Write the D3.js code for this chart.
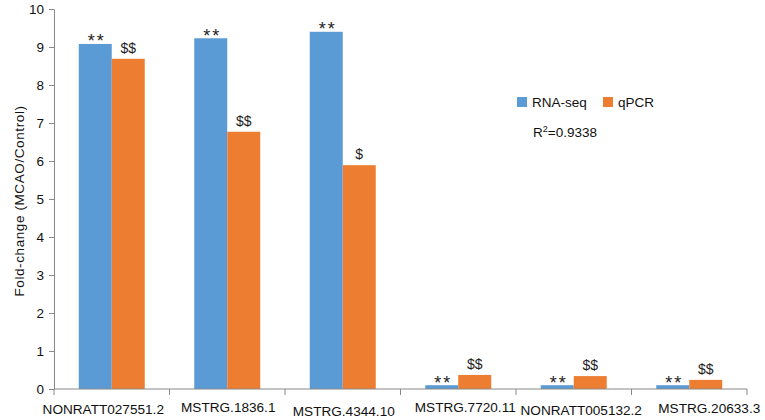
<!DOCTYPE html>
<html>
<head>
<meta charset="utf-8">
<script src="https://cdn.jsdelivr.net/npm/d3@7"></script>
<style>
  body { margin: 0; background: #fff; }
  svg { font-family: "Liberation Sans", Arial, sans-serif; }
</style>
</head>
<body>
<div id="chart"></div>
<script>
let categories = ["NONRATT027551.2", "MSTRG.1836.1", "MSTRG.4344.10", "MSTRG.7720.11", "NONRATT005132.2", "MSTRG.20633.3"];
let rnaSeq = [9.08, 9.23, 9.40, 0.10, 0.10, 0.10];
let qpcr = [8.69, 6.77, 5.89, 0.37, 0.34, 0.24];
let rnaMarks = ["**", "**", "**", "**", "**", "**"];
let qpcrMarks = ["$$", "$$", "$", "$$", "$$", "$$"];
let seriesNames = ["RNA-seq", "qPCR"];
let yTicks = [0, 1, 2, 3, 4, 5, 6, 7, 8, 9, 10];

let margin = {top: 9, right: 18, bottom: 31, left: 54};
let width = 765 - margin.left - margin.right;
let height = 420 - margin.top - margin.bottom;

let colors = ["#5b9bd5", "#ed7d31"];

// the category labels in the original sit a little off their band centres
let labelShift = [[-8.5, 1.5], [1, -0.5], [1, 3.5], [7, -0.5], [7.5, 2.5], [20, 0]];

let svg = d3.select("#chart")
    .append("svg")
    .attr("width", 765)
    .attr("height", 420);

let g = svg.append("g")
    .attr("transform", "translate(" + margin.left + "," + margin.top + ")");

let x = d3.scaleBand()
    .domain(categories)
    .range([0, width]);

let x1 = d3.scaleBand()
    .domain(seriesNames)
    .range([0, 66])
    .padding(0);

let y = d3.scaleLinear()
    .domain([0, 10])
    .range([height, 0]);

let dataset = categories.map(function(c, i) {
    return {cat: c, values: [
        {key: seriesNames[0], value: rnaSeq[i], mark: rnaMarks[i]},
        {key: seriesNames[1], value: qpcr[i], mark: qpcrMarks[i]}
    ]};
});

let pairOffset = (x.bandwidth() - 66) / 2;

let groups = g.append("g")
    .selectAll("g")
    .data(dataset)
    .enter().append("g")
    .attr("transform", function(d) { return "translate(" + (x(d.cat) + pairOffset) + ",0)"; });

groups.selectAll("rect")
    .data(function(d) { return d.values; })
    .enter().append("rect")
    .attr("x", function(d) { return x1(d.key); })
    .attr("y", function(d) { return y(d.value); })
    .attr("width", x1.bandwidth())
    .attr("height", function(d) { return height - y(d.value); })
    .attr("fill", function(d, i) { return colors[i]; });

groups.selectAll("text")
    .data(function(d) { return d.values; })
    .enter().append("text")
    .attr("x", function(d) { return x1(d.key) + x1.bandwidth() / 2; })
    .attr("y", function(d, i) { return y(d.value) - (i === 0 ? -3.5 : 6); })
    .attr("dx", function(d, i) { return i === 0 ? 1.5 : 0; })
    .attr("text-anchor", "middle")
    .attr("font-size", function(d, i) { return i === 0 ? 18 : 14; })
    .attr("letter-spacing", function(d, i) { return i === 0 ? 2 : 0; })
    .attr("fill", "#222")
    .text(function(d) { return d.mark; });

// y axis
let yAxis = g.append("g")
    .call(d3.axisLeft(y).tickValues(yTicks).tickSize(5).tickSizeOuter(0));
yAxis.select(".domain").attr("stroke", "#888");
yAxis.selectAll(".tick line").attr("stroke", "#888");
yAxis.selectAll(".tick text")
    .attr("font-size", 13.5)
    .attr("fill", "#111")
    .attr("font-family", "Liberation Sans, Arial, sans-serif")
    .attr("x", -10);

// x axis with ticks at the band boundaries
let xAxis = g.append("g")
    .attr("transform", "translate(0," + height + ")");
xAxis.append("line")
    .attr("x1", 0).attr("x2", width)
    .attr("stroke", "#888");
xAxis.selectAll(".bound")
    .data(d3.range(categories.length + 1))
    .enter().append("line")
    .attr("class", "bound")
    .attr("x1", function(i) { return i * x.step(); })
    .attr("x2", function(i) { return i * x.step(); })
    .attr("y1", 0).attr("y2", 6)
    .attr("stroke", "#888");
xAxis.selectAll(".lab")
    .data(categories)
    .enter().append("text")
    .attr("class", "lab")
    .attr("x", function(d, i) { return x(d) + x.bandwidth() / 2 + labelShift[i][0]; })
    .attr("y", function(d, i) { return 23.5 + labelShift[i][1]; })
    .attr("text-anchor", "middle")
    .attr("font-size", 13.6)
    .attr("fill", "#111")
    .text(function(d) { return d; });

// y title
svg.append("text")
    .attr("transform", "translate(24," + 201 + ") rotate(-90)")
    .attr("text-anchor", "middle")
    .attr("font-size", 13.5)
    .attr("letter-spacing", 0.6)
    .attr("fill", "#111")
    .text("Fold-change (MCAO/Control)");

// legend
let legend = svg.append("g")
    .selectAll("g")
    .data(seriesNames)
    .enter().append("g")
    .attr("transform", function(d, i) { return "translate(" + (517 + i * 86) + ",97)"; });

legend.append("rect")
    .attr("width", 10)
    .attr("height", 10)
    .attr("fill", function(d, i) { return colors[i]; });

legend.append("text")
    .attr("x", 15)
    .attr("y", 10)
    .attr("font-size", 13.5)
    .attr("fill", "#111")
    .text(function(d) { return d; });

let r2 = svg.append("text")
    .attr("x", 533)
    .attr("y", 137)
    .attr("font-size", 13.5)
    .attr("fill", "#111");
r2.append("tspan").text("R");
r2.append("tspan").attr("dy", -5).attr("font-size", 9).text("2");
r2.append("tspan").attr("dy", 5).text("=0.9338");
</script>
</body>
</html>
